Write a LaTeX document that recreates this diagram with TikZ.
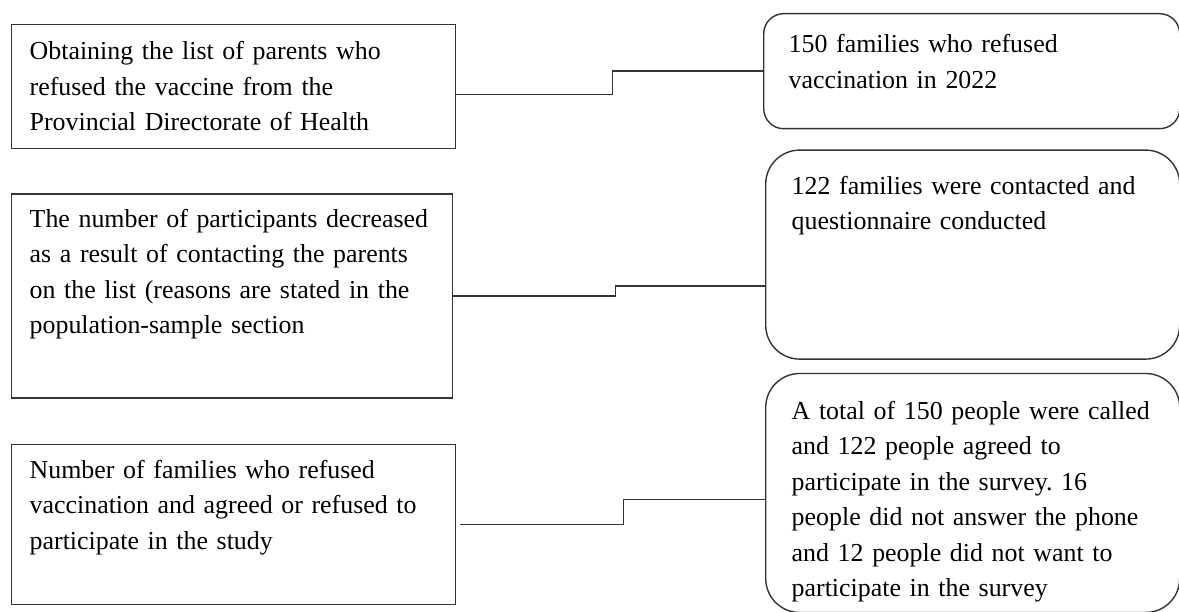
\documentclass[tikz,border=0pt]{standalone}
\usepackage{fontspec}
\setmainfont{Liberation Serif}
\usepackage{tikz}
\usetikzlibrary{positioning}
\frenchspacing

\begin{document}
\begin{tikzpicture}[
    x=1pt, y=-1pt,
    box/.style={draw=black!80, line width=1.4pt, align=left, anchor=north west,
                inner xsep=18pt, inner ysep=0pt, text width=408pt, text height=35pt,
                font=\fontsize{25.9pt}{35.5pt}\selectfont},
    rbox/.style={box, rounded corners=#1, inner xsep=26pt, text width=362pt},
    link/.style={draw=black!80, line width=1.4pt}
  ]
  \useasboundingbox (0,0) rectangle (1179,612);

  \node[box, text depth=89pt] (obtain) at (11,24)
    {Obtaining the list of parents who\\ refused the vaccine from the\\ Provincial Directorate of Health};
  \node[box, below=44pt of obtain.south west, anchor=north west, text width=405pt,
        text height=33pt, text depth=171pt] (decrease)
    {The number of participants decreased\\ as a result of contacting the parents\\ on the list (reasons are stated in the\\ population-sample section};
  \node[box, below=45pt of decrease.south west, anchor=north west,
        text height=34pt, text depth=126pt] (agreed)
    {Number of families who refused\\ vaccination and agreed or refused to\\ participate in the study};

  \node[rbox=20pt, inner xsep=25pt, text width=366pt, text height=39pt, text depth=76pt] (refused) at (763,13)
    {150 families who refused\\ vaccination in 2022};
  \node[rbox=34pt, below=20pt of refused.south west, anchor=north west, xshift=2pt,
        text height=44pt, text depth=165pt] (contacted)
    {122 families were contacted and\\ questionnaire conducted};
  \node[rbox=34pt, below=13pt of contacted.south west, anchor=north west,
        text height=46pt, text depth=193pt] (called)
    {A total of 150 people were called\\ and 122 people agreed to\\ participate in the survey. 16\\ people did not answer the phone\\ and 12 people did not want to\\ participate in the survey};

  \draw[link] ([yshift=-8pt]obtain.east) -- ++(156pt,0) |- (refused.west);
  \draw[link] (decrease.east) -- ++(162pt,0) |- ([yshift=-31.5pt]contacted.west);
  \draw[link] ([xshift=4pt]agreed.east) -- ++(163pt,0) |- ([yshift=-6.5pt]called.west);
\end{tikzpicture}
\end{document}
